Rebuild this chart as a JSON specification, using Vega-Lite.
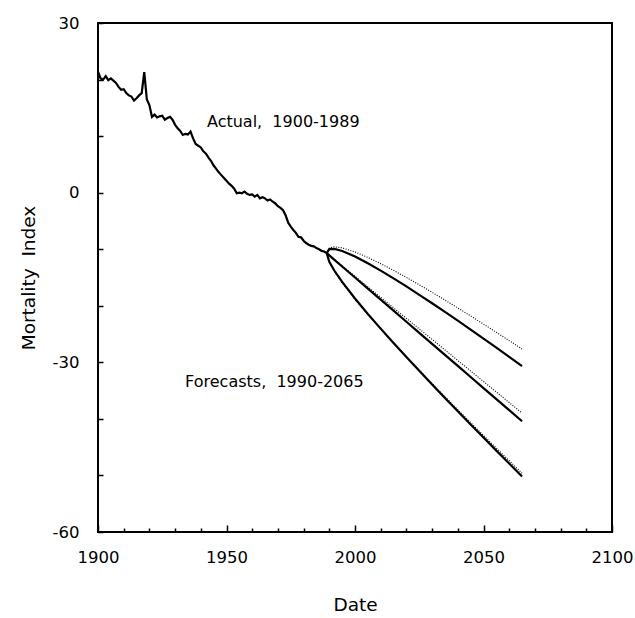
{
  "$schema": "https://vega.github.io/schema/vega-lite/v6.json",
  "autosize": {"type": "none"},
  "padding": {"left": 98, "top": 23, "right": 23, "bottom": 86},
  "width": 514,
  "height": 509,
  "config": {
    "view": {"stroke": "black", "strokeWidth": 2},
    "font": "DejaVu Sans",
    "axis": {"grid": false, "domain": false, "tickColor": "black", "labelColor": "black", "titleColor": "black", "labelFont": "DejaVu Sans", "titleFont": "DejaVu Sans", "labelFontSize": 16.5, "titleFontSize": 18.5, "titleFontWeight": "normal", "tickWidth": 1.5}
  },
  "datasets": {
    "actual": [
      {"year": 1900, "value": 21.4}, {"year": 1901, "value": 20.2}, {"year": 1902, "value": 20.0}, {"year": 1903, "value": 20.6}, {"year": 1904, "value": 19.9},
      {"year": 1905, "value": 20.2}, {"year": 1906, "value": 19.8}, {"year": 1907, "value": 19.4}, {"year": 1908, "value": 18.7}, {"year": 1909, "value": 18.2},
      {"year": 1910, "value": 18.3}, {"year": 1911, "value": 17.6}, {"year": 1912, "value": 17.2}, {"year": 1913, "value": 17.0}, {"year": 1914, "value": 16.3},
      {"year": 1915, "value": 16.7}, {"year": 1916, "value": 17.2}, {"year": 1917, "value": 17.6}, {"year": 1918, "value": 21.3}, {"year": 1919, "value": 16.5},
      {"year": 1920, "value": 15.5}, {"year": 1921, "value": 13.4}, {"year": 1922, "value": 13.8}, {"year": 1923, "value": 13.3}, {"year": 1924, "value": 13.5},
      {"year": 1925, "value": 13.6}, {"year": 1926, "value": 12.9}, {"year": 1927, "value": 13.2}, {"year": 1928, "value": 13.4}, {"year": 1929, "value": 12.9},
      {"year": 1930, "value": 12.0}, {"year": 1931, "value": 11.4}, {"year": 1932, "value": 10.9}, {"year": 1933, "value": 10.2}, {"year": 1934, "value": 10.4},
      {"year": 1935, "value": 10.3}, {"year": 1936, "value": 10.8}, {"year": 1937, "value": 9.6}, {"year": 1938, "value": 8.6}, {"year": 1939, "value": 8.3},
      {"year": 1940, "value": 8.0}, {"year": 1941, "value": 7.3}, {"year": 1942, "value": 6.9}, {"year": 1943, "value": 6.2}, {"year": 1944, "value": 5.6},
      {"year": 1945, "value": 4.8}, {"year": 1946, "value": 4.2}, {"year": 1947, "value": 3.6}, {"year": 1948, "value": 3.1}, {"year": 1949, "value": 2.6},
      {"year": 1950, "value": 2.1}, {"year": 1951, "value": 1.6}, {"year": 1952, "value": 1.2}, {"year": 1953, "value": 0.7}, {"year": 1954, "value": -0.1},
      {"year": 1955, "value": 0.0}, {"year": 1956, "value": -0.1}, {"year": 1957, "value": 0.2}, {"year": 1958, "value": -0.2}, {"year": 1959, "value": -0.4},
      {"year": 1960, "value": -0.3}, {"year": 1961, "value": -0.7}, {"year": 1962, "value": -0.4}, {"year": 1963, "value": -1.0}, {"year": 1964, "value": -0.8},
      {"year": 1965, "value": -1.0}, {"year": 1966, "value": -1.4}, {"year": 1967, "value": -1.2}, {"year": 1968, "value": -1.6}, {"year": 1969, "value": -1.9},
      {"year": 1970, "value": -2.4}, {"year": 1971, "value": -2.7}, {"year": 1972, "value": -3.1}, {"year": 1973, "value": -4.0}, {"year": 1974, "value": -5.3},
      {"year": 1975, "value": -6.0}, {"year": 1976, "value": -6.6}, {"year": 1977, "value": -7.1}, {"year": 1978, "value": -7.8}, {"year": 1979, "value": -7.9},
      {"year": 1980, "value": -8.5}, {"year": 1981, "value": -8.9}, {"year": 1982, "value": -9.2}, {"year": 1983, "value": -9.4}, {"year": 1984, "value": -9.5},
      {"year": 1985, "value": -9.8}, {"year": 1986, "value": -10.0}, {"year": 1987, "value": -10.3}, {"year": 1988, "value": -10.4}, {"year": 1989, "value": -10.7}
    ],
    "forecast": [
      {"year": 1989, "band": "upper", "model": "solid", "value": -10.7},
      {"year": 1990, "band": "upper", "model": "solid", "value": -9.97},
      {"year": 1992, "band": "upper", "model": "solid", "value": -9.93},
      {"year": 1995, "band": "upper", "model": "solid", "value": -10.31},
      {"year": 2000, "band": "upper", "model": "solid", "value": -11.28},
      {"year": 2005, "band": "upper", "model": "solid", "value": -12.48},
      {"year": 2010, "band": "upper", "model": "solid", "value": -13.78},
      {"year": 2015, "band": "upper", "model": "solid", "value": -15.16},
      {"year": 2020, "band": "upper", "model": "solid", "value": -16.58},
      {"year": 2025, "band": "upper", "model": "solid", "value": -18.06},
      {"year": 2030, "band": "upper", "model": "solid", "value": -19.56},
      {"year": 2035, "band": "upper", "model": "solid", "value": -21.09},
      {"year": 2040, "band": "upper", "model": "solid", "value": -22.64},
      {"year": 2045, "band": "upper", "model": "solid", "value": -24.22},
      {"year": 2050, "band": "upper", "model": "solid", "value": -25.8},
      {"year": 2055, "band": "upper", "model": "solid", "value": -27.41},
      {"year": 2060, "band": "upper", "model": "solid", "value": -29.02},
      {"year": 2065, "band": "upper", "model": "solid", "value": -30.66},
      {"year": 1989, "band": "mean", "model": "solid", "value": -10.7},
      {"year": 1990, "band": "mean", "model": "solid", "value": -11.09},
      {"year": 1992, "band": "mean", "model": "solid", "value": -11.87},
      {"year": 1995, "band": "mean", "model": "solid", "value": -13.05},
      {"year": 2000, "band": "mean", "model": "solid", "value": -15.0},
      {"year": 2005, "band": "mean", "model": "solid", "value": -16.96},
      {"year": 2010, "band": "mean", "model": "solid", "value": -18.91},
      {"year": 2015, "band": "mean", "model": "solid", "value": -20.87},
      {"year": 2020, "band": "mean", "model": "solid", "value": -22.82},
      {"year": 2025, "band": "mean", "model": "solid", "value": -24.78},
      {"year": 2030, "band": "mean", "model": "solid", "value": -26.73},
      {"year": 2035, "band": "mean", "model": "solid", "value": -28.69},
      {"year": 2040, "band": "mean", "model": "solid", "value": -30.64},
      {"year": 2045, "band": "mean", "model": "solid", "value": -32.6},
      {"year": 2050, "band": "mean", "model": "solid", "value": -34.55},
      {"year": 2055, "band": "mean", "model": "solid", "value": -36.51},
      {"year": 2060, "band": "mean", "model": "solid", "value": -38.46},
      {"year": 2065, "band": "mean", "model": "solid", "value": -40.42},
      {"year": 1989, "band": "lower", "model": "solid", "value": -10.7},
      {"year": 1990, "band": "lower", "model": "solid", "value": -12.21},
      {"year": 1992, "band": "lower", "model": "solid", "value": -13.81},
      {"year": 1995, "band": "lower", "model": "solid", "value": -15.79},
      {"year": 2000, "band": "lower", "model": "solid", "value": -18.72},
      {"year": 2005, "band": "lower", "model": "solid", "value": -21.44},
      {"year": 2010, "band": "lower", "model": "solid", "value": -24.04},
      {"year": 2015, "band": "lower", "model": "solid", "value": -26.58},
      {"year": 2020, "band": "lower", "model": "solid", "value": -29.06},
      {"year": 2025, "band": "lower", "model": "solid", "value": -31.5},
      {"year": 2030, "band": "lower", "model": "solid", "value": -33.9},
      {"year": 2035, "band": "lower", "model": "solid", "value": -36.29},
      {"year": 2040, "band": "lower", "model": "solid", "value": -38.64},
      {"year": 2045, "band": "lower", "model": "solid", "value": -40.98},
      {"year": 2050, "band": "lower", "model": "solid", "value": -43.3},
      {"year": 2055, "band": "lower", "model": "solid", "value": -45.61},
      {"year": 2060, "band": "lower", "model": "solid", "value": -47.9},
      {"year": 2065, "band": "lower", "model": "solid", "value": -50.18},
      {"year": 1989, "band": "upper", "model": "dotted", "value": -10.7},
      {"year": 1990, "band": "upper", "model": "dotted", "value": -9.77},
      {"year": 1992, "band": "upper", "model": "dotted", "value": -9.57},
      {"year": 1995, "band": "upper", "model": "dotted", "value": -9.75},
      {"year": 2000, "band": "upper", "model": "dotted", "value": -10.48},
      {"year": 2005, "band": "upper", "model": "dotted", "value": -11.45},
      {"year": 2010, "band": "upper", "model": "dotted", "value": -12.55},
      {"year": 2015, "band": "upper", "model": "dotted", "value": -13.74},
      {"year": 2020, "band": "upper", "model": "dotted", "value": -14.99},
      {"year": 2025, "band": "upper", "model": "dotted", "value": -16.29},
      {"year": 2030, "band": "upper", "model": "dotted", "value": -17.63},
      {"year": 2035, "band": "upper", "model": "dotted", "value": -18.99},
      {"year": 2040, "band": "upper", "model": "dotted", "value": -20.39},
      {"year": 2045, "band": "upper", "model": "dotted", "value": -21.8},
      {"year": 2050, "band": "upper", "model": "dotted", "value": -23.24},
      {"year": 2055, "band": "upper", "model": "dotted", "value": -24.69},
      {"year": 2060, "band": "upper", "model": "dotted", "value": -26.16},
      {"year": 2065, "band": "upper", "model": "dotted", "value": -27.64},
      {"year": 1989, "band": "mean", "model": "dotted", "value": -10.7},
      {"year": 1990, "band": "mean", "model": "dotted", "value": -11.07},
      {"year": 1992, "band": "mean", "model": "dotted", "value": -11.82},
      {"year": 1995, "band": "mean", "model": "dotted", "value": -12.93},
      {"year": 2000, "band": "mean", "model": "dotted", "value": -14.79},
      {"year": 2005, "band": "mean", "model": "dotted", "value": -16.65},
      {"year": 2010, "band": "mean", "model": "dotted", "value": -18.51},
      {"year": 2015, "band": "mean", "model": "dotted", "value": -20.37},
      {"year": 2020, "band": "mean", "model": "dotted", "value": -22.23},
      {"year": 2025, "band": "mean", "model": "dotted", "value": -24.09},
      {"year": 2030, "band": "mean", "model": "dotted", "value": -25.95},
      {"year": 2035, "band": "mean", "model": "dotted", "value": -27.81},
      {"year": 2040, "band": "mean", "model": "dotted", "value": -29.67},
      {"year": 2045, "band": "mean", "model": "dotted", "value": -31.53},
      {"year": 2050, "band": "mean", "model": "dotted", "value": -33.39},
      {"year": 2055, "band": "mean", "model": "dotted", "value": -35.25},
      {"year": 2060, "band": "mean", "model": "dotted", "value": -37.11},
      {"year": 2065, "band": "mean", "model": "dotted", "value": -38.97},
      {"year": 1989, "band": "lower", "model": "dotted", "value": -10.7},
      {"year": 1990, "band": "lower", "model": "dotted", "value": -12.29},
      {"year": 1992, "band": "lower", "model": "dotted", "value": -13.93},
      {"year": 1995, "band": "lower", "model": "dotted", "value": -15.92},
      {"year": 2000, "band": "lower", "model": "dotted", "value": -18.84},
      {"year": 2005, "band": "lower", "model": "dotted", "value": -21.53},
      {"year": 2010, "band": "lower", "model": "dotted", "value": -24.1},
      {"year": 2015, "band": "lower", "model": "dotted", "value": -26.59},
      {"year": 2020, "band": "lower", "model": "dotted", "value": -29.02},
      {"year": 2025, "band": "lower", "model": "dotted", "value": -31.41},
      {"year": 2030, "band": "lower", "model": "dotted", "value": -33.76},
      {"year": 2035, "band": "lower", "model": "dotted", "value": -36.08},
      {"year": 2040, "band": "lower", "model": "dotted", "value": -38.38},
      {"year": 2045, "band": "lower", "model": "dotted", "value": -40.66},
      {"year": 2050, "band": "lower", "model": "dotted", "value": -42.92},
      {"year": 2055, "band": "lower", "model": "dotted", "value": -45.16},
      {"year": 2060, "band": "lower", "model": "dotted", "value": -47.39},
      {"year": 2065, "band": "lower", "model": "dotted", "value": -49.61}
    ],
    "labels": [
      {"year": 1942.4, "value": 12.5, "text": "Actual,\u00a0\u00a01900-1989"},
      {"year": 1933.9, "value": -33.5, "text": "Forecasts,\u00a0\u00a01990-2065"}
    ]
  },
  "layer": [
    {
      "data": {"name": "actual"},
      "mark": {"type": "line", "color": "black", "strokeWidth": 2.2, "interpolate": "linear"},
      "encoding": {
        "x": {"field": "year", "type": "quantitative", "scale": {"domain": [1900, 2100], "nice": false, "zero": false},
              "axis": {"orient": "bottom", "values": [1900, 1950, 2000, 2050, 2100], "tickSize": -7, "labelPadding": 24, "format": "d", "title": "Date", "titlePadding": 30, "labelFlush": false}},
        "y": {"field": "value", "type": "quantitative", "scale": {"domain": [-60, 30], "nice": false, "zero": false},
              "axis": {"orient": "left", "values": [-60, -50, -40, -30, -20, -10, 0, 10, 20, 30], "tickSize": -5, "labelPadding": 24, "labelExpr": "datum.value % 30 == 0 ? '' + datum.value : ''", "title": "Mortality\u00a0\u00a0Index", "titlePadding": 14, "labelFlush": false}}
      }
    },
    {
      "data": {"name": "forecast"},
      "transform": [{"filter": "datum.model == 'solid'"}],
      "mark": {"type": "line", "color": "black", "strokeWidth": 2.2},
      "encoding": {
        "x": {"field": "year", "type": "quantitative",
              "axis": {"orient": "bottom", "values": [1910, 1920, 1930, 1940, 1960, 1970, 1980, 1990, 2010, 2020, 2030, 2040, 2060, 2070, 2080, 2090], "tickSize": -4, "labels": false, "title": null}},
        "y": {"field": "value", "type": "quantitative", "axis": null},
        "detail": {"field": "band"}
      }
    },
    {
      "data": {"name": "forecast"},
      "transform": [{"filter": "datum.model == 'dotted'"}],
      "mark": {"type": "line", "color": "black", "strokeWidth": 1.1, "strokeDash": [1, 1.5]},
      "encoding": {
        "x": {"field": "year", "type": "quantitative", "axis": null},
        "y": {"field": "value", "type": "quantitative", "axis": null},
        "detail": {"field": "band"}
      }
    },
    {
      "data": {"name": "labels"},
      "mark": {"type": "text", "align": "left", "baseline": "middle", "fontSize": 16, "font": "DejaVu Sans", "color": "black"},
      "encoding": {
        "x": {"field": "year", "type": "quantitative", "axis": null},
        "y": {"field": "value", "type": "quantitative", "axis": null},
        "text": {"field": "text"}
      }
    }
  ],
  "resolve": {"axis": {"x": "independent", "y": "independent"}}
}
